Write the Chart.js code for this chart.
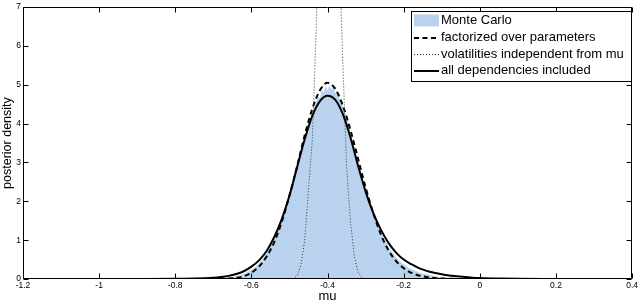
<!DOCTYPE html>
<html><head><meta charset="utf-8">
<script src="https://cdn.jsdelivr.net/npm/chart.js@4.4.1/dist/chart.umd.min.js"></script>
<style>html,body{margin:0;padding:0;background:#fff;}canvas{display:block;}</style>
</head><body>
<canvas id="c" width="640" height="304"></canvas>
<script>
// ---- tick values / labels ----
const xTickValues = [-1.2, -1, -0.8, -0.6, -0.4, -0.2, 0, 0.2, 0.4];
const xTickLabels = ['-1.2', '-1', '-0.8', '-0.6', '-0.4', '-0.2', '0', '0.2', '0.4'];
const yTickValues = [0, 1, 2, 3, 4, 5, 6, 7];
const yTickLabels = ['0', '1', '2', '3', '4', '5', '6', '7'];

// ---- series labels ----
const seriesLabels = ['Monte Carlo', 'factorized over parameters', 'volatilities independent from mu', 'all dependencies included'];

// ---- Monte Carlo histogram ----
const mcMu = [-0.76, -0.74, -0.72, -0.71, -0.70, -0.69, -0.68, -0.67, -0.66, -0.65, -0.64, -0.63, -0.62, -0.61, -0.60, -0.59, -0.58, -0.57, -0.56, -0.55, -0.54, -0.53, -0.52, -0.51, -0.50, -0.49, -0.48, -0.47, -0.46, -0.45, -0.445, -0.44, -0.435, -0.43, -0.425, -0.42, -0.415, -0.41, -0.405, -0.40, -0.395, -0.39, -0.385, -0.38, -0.375, -0.37, -0.365, -0.36, -0.355, -0.35, -0.345, -0.34, -0.33, -0.32, -0.31, -0.30, -0.29, -0.28, -0.27, -0.26, -0.25, -0.24, -0.23, -0.22, -0.21, -0.20, -0.19, -0.18, -0.17, -0.16, -0.15, -0.14, -0.13, -0.12, -0.11, -0.10, -0.09, -0.08, -0.06, -0.04, -0.02, 0, 0.05, 0.10];
const mcDensity = [0, 0.005, 0.01, 0.012, 0.015, 0.02, 0.03, 0.04, 0.05, 0.06, 0.08, 0.10, 0.13, 0.18, 0.24, 0.31, 0.40, 0.52, 0.66, 0.83, 1.03, 1.27, 1.52, 1.84, 2.16, 2.52, 2.90, 3.28, 3.66, 4.02, 4.12, 4.30, 4.40, 4.55, 4.70, 4.66, 4.88, 4.80, 4.96, 4.86, 4.98, 4.88, 4.95, 4.78, 4.86, 4.66, 4.60, 4.44, 4.30, 4.12, 3.96, 3.78, 3.42, 3.02, 2.66, 2.30, 1.98, 1.72, 1.46, 1.20, 1.00, 0.83, 0.68, 0.56, 0.46, 0.38, 0.31, 0.26, 0.21, 0.17, 0.14, 0.12, 0.10, 0.08, 0.065, 0.05, 0.04, 0.03, 0.02, 0.012, 0.008, 0.005, 0.002, 0];

// ---- approximations (factorized / all dependencies) ----
const curveMu = [-1.13, -1.0, -0.9, -0.8, -0.75, -0.7, -0.68, -0.66, -0.64, -0.62, -0.6, -0.58, -0.56, -0.54, -0.52, -0.5, -0.48, -0.46, -0.44, -0.42, -0.4, -0.38, -0.36, -0.34, -0.32, -0.3, -0.28, -0.26, -0.24, -0.22, -0.2, -0.18, -0.16, -0.14, -0.12, -0.1, -0.08, -0.06, -0.04, -0.02, 0, 0.05, 0.1, 0.2, 0.37];
const factorized = [0, 0, 0.0005, 0.001, 0.002, 0.005, 0.01, 0.015, 0.03, 0.07, 0.16, 0.32, 0.58, 0.95, 1.48, 2.15, 2.90, 3.70, 4.38, 4.86, 5.05, 4.90, 4.47, 3.84, 3.10, 2.36, 1.70, 1.15, 0.74, 0.46, 0.28, 0.16, 0.09, 0.05, 0.025, 0.012, 0.006, 0.003, 0.002, 0.001, 0.001, 0, 0, 0, 0];
const allDeps = [0, 0.001, 0.002, 0.005, 0.01, 0.03, 0.05, 0.08, 0.13, 0.20, 0.32, 0.48, 0.72, 1.08, 1.55, 2.15, 2.88, 3.60, 4.20, 4.58, 4.72, 4.62, 4.25, 3.65, 2.92, 2.25, 1.70, 1.27, 0.93, 0.68, 0.50, 0.38, 0.28, 0.21, 0.16, 0.12, 0.09, 0.07, 0.05, 0.035, 0.025, 0.012, 0.006, 0.002, 0];

// ---- volatilities independent from mu ----
const volMu = [-1.13, -0.5, -0.49, -0.48, -0.47, -0.46, -0.45, -0.44, -0.43, -0.42, -0.41, -0.4, -0.39, -0.38, -0.37, -0.36, -0.35, -0.34, -0.33, -0.32, -0.31, -0.3, -0.29, 0.37];
const volIndep = [0, 0, 0.01, 0.08, 0.35, 1.0, 2.3, 3.6, 6.4, 9.5, 12, 13, 12.5, 10.8, 8.5, 5.6, 2.9, 1.5, 0.6, 0.18, 0.04, 0.005, 0, 0];

const pts = (xs, ys) => xs.map((x, i) => ({x: x, y: ys[i]}));
const FONT = '"Liberation Sans", Arial, Helvetica, sans-serif';
const mcColor = 'rgb(185,211,238)';

const boxTicks = {
  id: 'boxTicks',
  afterDatasetsDraw(chart) {
    const {ctx, chartArea: a, scales} = chart;
    ctx.save();
    ctx.strokeStyle = '#000';
    ctx.lineWidth = 1;
    ctx.beginPath();
    const L = Math.round(a.left) + 0.5, R = Math.round(a.right) - 0.5;
    const T = Math.round(a.top) + 0.5, B = Math.round(a.bottom) - 0.5;
    ctx.rect(L, T, R - L, B - T);
    const tl = 5;
    xTickValues.forEach(v => {
      const px = Math.round(scales.x.getPixelForValue(v)) + 0.5;
      ctx.moveTo(px, B); ctx.lineTo(px, B - tl);
      ctx.moveTo(px, T); ctx.lineTo(px, T + tl);
    });
    yTickValues.forEach(v => {
      const py = Math.round(scales.y.getPixelForValue(v)) + 0.5;
      ctx.moveTo(L, py); ctx.lineTo(L + tl, py);
      ctx.moveTo(R, py); ctx.lineTo(R - tl, py);
    });
    ctx.stroke();
    ctx.restore();
  }
};

const boxLegend = {
  id: 'boxLegend',
  afterDraw(chart) {
    const {ctx, chartArea: a} = chart;
    const ds = chart.data.datasets;
    const w = 220, h = 70;
    const x0 = Math.round(a.right) - 1 - w, y0 = Math.round(a.top) + 4;
    ctx.save();
    ctx.fillStyle = '#fff';
    ctx.fillRect(x0, y0, w, h);
    ctx.strokeStyle = '#000';
    ctx.lineWidth = 1;
    ctx.strokeRect(x0 + 0.5, y0 + 0.5, w, h);
    ctx.font = '13px ' + FONT;
    ctx.textBaseline = 'middle';
    ctx.textAlign = 'left';
    const rows = [9.5, 26.5, 43, 59.5];
    ds.forEach((d, i) => {
      const cy = y0 + rows[i];
      if (d.fill) {
        ctx.fillStyle = d.backgroundColor;
        ctx.fillRect(x0 + 3, cy - 6, 25, 12);
      } else {
        ctx.beginPath();
        ctx.strokeStyle = d.borderColor;
        ctx.lineWidth = d.borderWidth;
        ctx.setLineDash(d.borderDash || []);
        ctx.moveTo(x0 + 3, Math.round(cy) + (d.borderWidth % 2 ? 0.5 : 0));
        ctx.lineTo(x0 + 28, Math.round(cy) + (d.borderWidth % 2 ? 0.5 : 0));
        ctx.stroke();
        ctx.setLineDash([]);
      }
      ctx.fillStyle = '#000';
      ctx.fillText(d.label, x0 + 30, cy);
    });
    ctx.restore();
  }
};

new Chart(document.getElementById('c'), {
  type: 'line',
  data: {
    datasets: [
      { label: seriesLabels[0], data: pts(mcMu, mcDensity), fill: 'origin', backgroundColor: mcColor, borderColor: mcColor, borderWidth: 0, pointRadius: 0, tension: 0, order: 4 },
      { label: seriesLabels[1], data: pts(curveMu, factorized), fill: false, borderColor: '#000', borderWidth: 2, borderDash: [5, 3.5], pointRadius: 0, cubicInterpolationMode: 'monotone', order: 3 },
      { label: seriesLabels[2], data: pts(volMu, volIndep), fill: false, borderColor: '#333', borderWidth: 1, borderDash: [1, 2], pointRadius: 0, tension: 0, order: 2 },
      { label: seriesLabels[3], data: pts(curveMu, allDeps), fill: false, borderColor: '#000', borderWidth: 2, pointRadius: 0, cubicInterpolationMode: 'monotone', order: 1 }
    ]
  },
  options: {
    responsive: false,
    animation: false,
    events: [],
    layout: { padding: { left: 0, right: 7, top: 3, bottom: 0 }, autoPadding: false },
    plugins: { legend: { display: false }, tooltip: { enabled: false } },
    scales: {
      x: {
        type: 'linear', min: -1.2, max: 0.4,
        grid: { display: false, drawTicks: false, tickLength: 0 }, border: { display: false },
        afterBuildTicks: s => { s.ticks = xTickValues.map(v => ({ value: v })); },
        afterFit: s => { s.height = 25; },
        ticks: { padding: 2, color: '#000', font: { family: FONT, size: 8.5 }, maxRotation: 0, autoSkip: false,
                 callback: (v, i) => xTickLabels[i] },
        title: { display: true, text: 'mu', color: '#000', padding: 0, font: { family: FONT, size: 13 } }
      },
      y: {
        type: 'linear', min: 0, max: 7,
        grid: { display: false, drawTicks: false, tickLength: 0 }, border: { display: false },
        afterBuildTicks: s => { s.ticks = yTickValues.map(v => ({ value: v })); },
        afterFit: s => { s.width = 23; },
        ticks: { padding: 2, color: '#000', font: { family: FONT, size: 8.5 }, autoSkip: false,
                 callback: (v, i) => yTickLabels[i] },
        title: { display: true, text: 'posterior density', color: '#000', padding: 0, font: { family: FONT, size: 12.5 } }
      }
    }
  },
  plugins: [boxTicks, boxLegend]
});
</script>
</body></html>
